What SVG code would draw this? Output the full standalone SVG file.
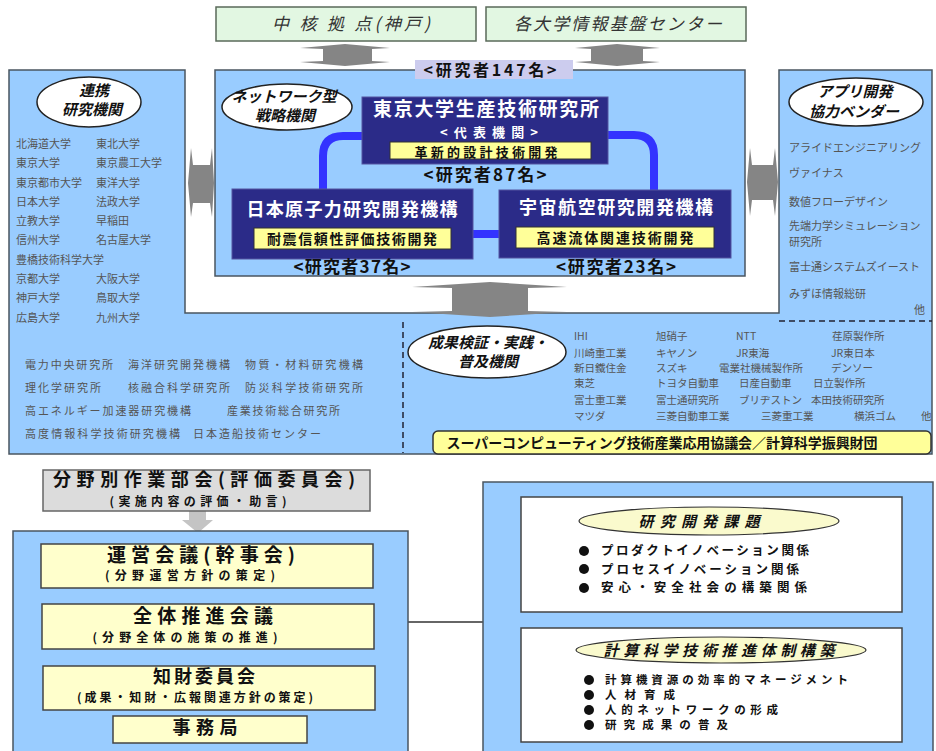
<svg xmlns="http://www.w3.org/2000/svg" width="936" height="751" viewBox="0 0 936 751">
<style>
text{font-family:"Noto Sans CJK JP","Noto Sans",sans-serif}
.panel{fill:#99ccff;stroke:#4a5560;stroke-width:1.5}
.green{fill:#e2f7e2;stroke:#5a6a5a;stroke-width:1.5}
.navy{fill:#2b2b88;stroke:#5555a0;stroke-width:1}
.ybox{fill:#ffff99;stroke:#333;stroke-width:1}
.pale{fill:#ffffcc;stroke:#444;stroke-width:1.5}
.white{fill:#fff;stroke:#444;stroke-width:1.5}
.oval{fill:#fff;stroke:#222;stroke-width:1.5}
.yoval{fill:#fafacd;stroke:#333;stroke-width:1.2}
.ttl{font-weight:bold;font-style:italic;fill:#111;font-size:15px;text-anchor:middle}
.gt{font-style:italic;fill:#333;font-size:17px;text-anchor:middle}
.li{font-size:11px;fill:#555}
.co{font-size:10.5px;fill:#555}
.wt{fill:#fff;font-weight:bold;text-anchor:middle}
.bk{fill:#111;font-weight:bold;text-anchor:middle}
.bl{fill:#111;font-weight:bold}
.arr{fill:#858585}
.dash{stroke:#223;stroke-width:1.5;stroke-dasharray:6 4;fill:none}
.link{stroke:#333;stroke-width:1.5;fill:none}
.blue{stroke:#3333ff;stroke-width:8;fill:none}
</style>

<!-- outer U-shaped panel -->
<g id="outer-panel">
<path class="panel" d="M9,70 H185 V313 H779 V70 H932 V454 H9 Z"/>
<path class="dash" d="M403,322 V453"/>
<path class="dash" d="M779,321 H932"/>
</g>

<!-- top green boxes -->
<g id="kobe">
<rect class="green" x="216" y="7" width="260" height="34"/>
<text class="gt" x="351" y="30" textLength="158">中 核 拠 点(神戸)</text>
</g>
<g id="infocenter">
<rect class="green" x="486" y="7" width="260" height="34"/>
<text class="gt" x="618" y="30" textLength="208">各大学情報基盤センター</text>
</g>

<!-- gray block arrows and connector lines -->
<g id="connectors">
<polygon class="arr" points="345,44 390,48 372,49 372,61 390,62 345,66 300,62 323,61 323,49 300,48"/>
<polygon class="arr" points="617,44 660,48 643,49 643,61 660,62 617,66 575,62 591,61 591,49 575,48"/>
<polygon class="arr" points="188,183 191,148 193,165 210,165 212,148 214,183 212,217 210,203 193,203 191,217"/>
<polygon class="arr" points="747,182 750,148 752,165 773,165 775,148 778,182 775,216 773,200 752,200 750,216"/>
<polygon class="arr" points="490,282 567,287 528,288 528,311 567,312 490,317 412,312 452,311 452,288 412,287"/>
<polygon fill="#c4c4c4" points="189,511 206,511 206,520 213,520 198,533 182,520 189,520"/>
<path class="link" d="M208,588 V604 M208,649 V666 M208,710 V716"/>
<path class="link" d="M408,622 H483"/>
<path class="link" d="M715,612 V628"/>
</g>

<!-- left: collaborating institutes -->
<g id="renkei">
<ellipse class="oval" cx="89" cy="102" rx="52" ry="25"/>
<text class="ttl" x="94" y="96">連携</text>
<text class="ttl" x="92" y="115">研究機関</text>
<text class="li" x="16" y="148">北海道大学</text><text class="li" x="96" y="148">東北大学</text>
<text class="li" x="16" y="167">東京大学</text><text class="li" x="96" y="167">東京農工大学</text>
<text class="li" x="16" y="187">東京都市大学</text><text class="li" x="96" y="187">東洋大学</text>
<text class="li" x="16" y="206">日本大学</text><text class="li" x="96" y="206">法政大学</text>
<text class="li" x="16" y="225">立教大学</text><text class="li" x="96" y="225">早稲田</text>
<text class="li" x="16" y="244">信州大学</text><text class="li" x="96" y="244">名古屋大学</text>
<text class="li" x="16" y="264">豊橋技術科学大学</text>
<text class="li" x="16" y="283">京都大学</text><text class="li" x="96" y="283">大阪大学</text>
<text class="li" x="16" y="302">神戸大学</text><text class="li" x="96" y="302">鳥取大学</text>
<text class="li" x="16" y="322">広島大学</text><text class="li" x="96" y="322">九州大学</text>
<text class="li" x="25" y="369" textLength="88">電力中央研究所</text>
<text class="li" x="128" y="369" textLength="102">海洋研究開発機構</text>
<text class="li" x="245" y="369" textLength="118">物質・材料研究機構</text>
<text class="li" x="25" y="392" textLength="76">理化学研究所</text>
<text class="li" x="128" y="392" textLength="102">核融合科学研究所</text>
<text class="li" x="245" y="392" textLength="118">防災科学技術研究所</text>
<text class="li" x="25" y="415" textLength="166">高エネルギー加速器研究機構</text>
<text class="li" x="227" y="415" textLength="113">産業技術総合研究所</text>
<text class="li" x="25" y="438" textLength="155">高度情報科学技術研究機構</text>
<text class="li" x="193" y="438" textLength="128">日本造船技術センター</text>
</g>

<!-- center: network-type strategic organization -->
<g id="network">
<rect class="panel" x="215" y="70" width="530" height="206"/>
<rect fill="#ccccee" x="415" y="60" width="158" height="19"/>
<text class="bk" x="490" y="76" font-size="16" textLength="133">&lt;研究者147名&gt;</text>
<ellipse class="oval" cx="287" cy="107" rx="65" ry="23"/>
<text class="ttl" x="284" y="102">ネットワーク型</text>
<text class="ttl" x="285" y="121">戦略機関</text>
<path class="blue" d="M362,136 H343 Q323,136 323,156 V190"/>
<path class="blue" d="M608,135 H634 Q654,135 654,155 V191"/>
<path class="blue" d="M472,234 H500"/>
</g>

<g id="iis">
<rect class="navy" x="362" y="97" width="246" height="67"/>
<text class="wt" x="486" y="116" font-size="19" textLength="226">東京大学生産技術研究所</text>
<text class="wt" x="489" y="137" font-size="13" textLength="98">&lt;代表機関&gt;</text>
<rect class="ybox" x="390" y="142" width="201" height="17"/>
<text class="bk" x="486" y="157" font-size="13" textLength="143">革新的設計技術開発</text>
<text class="bk" x="485" y="181" font-size="17" textLength="123">&lt;研究者87名&gt;</text>
</g>

<g id="jaea">
<rect class="navy" x="232" y="189" width="241" height="70"/>
<text class="wt" x="352" y="216" font-size="18" textLength="211">日本原子力研究開発機構</text>
<rect class="ybox" x="254" y="228" width="197" height="21"/>
<text class="bk" x="352" y="244" font-size="14" textLength="170">耐震信頼性評価技術開発</text>
<text class="bk" x="352" y="273" font-size="17" textLength="117">&lt;研究者37名&gt;</text>
</g>

<g id="jaxa">
<rect class="navy" x="499" y="190" width="232" height="68"/>
<text class="wt" x="616" y="214" font-size="18" textLength="194">宇宙航空研究開発機構</text>
<rect class="ybox" x="516" y="227" width="198" height="21"/>
<text class="bk" x="615" y="243" font-size="14" textLength="157">高速流体関連技術開発</text>
<text class="bk" x="616" y="273" font-size="17" textLength="120">&lt;研究者23名&gt;</text>
</g>

<!-- right: app vendors -->
<g id="vendors">
<ellipse class="oval" cx="856" cy="102" rx="67" ry="24"/>
<text class="ttl" x="855" y="97">アプリ開発</text>
<text class="ttl" x="854" y="117">協力ベンダー</text>
<text class="li" x="789" y="152">アライドエンジニアリング</text>
<text class="li" x="789" y="177">ヴァイナス</text>
<text class="li" x="789" y="206">数値フローデザイン</text>
<text class="li" x="789" y="230">先端力学シミュレーション</text>
<text class="li" x="789" y="246">研究所</text>
<text class="li" x="789" y="271">富士通システムズイースト</text>
<text class="li" x="789" y="298">みずほ情報総研</text>
<text class="li" x="914" y="314">他</text>
</g>

<!-- result verification / industry -->
<g id="industry">
<ellipse class="oval" cx="487" cy="352" rx="79" ry="26"/>
<text class="ttl" x="488" y="348">成果検証・実践・</text>
<text class="ttl" x="488" y="367">普及機関</text>
<text class="co" x="574" y="340">IHI</text><text class="co" x="656" y="340">旭硝子</text><text class="co" x="736" y="340">NTT</text><text class="co" x="832" y="340">荏原製作所</text>
<text class="co" x="574" y="357">川崎重工業</text><text class="co" x="656" y="357">キヤノン</text><text class="co" x="736" y="357">JR東海</text><text class="co" x="831" y="357">JR東日本</text>
<text class="co" x="574" y="372">新日鐵住金</text><text class="co" x="656" y="372">スズキ</text><text class="co" x="719" y="372">電業社機械製作所</text><text class="co" x="831" y="372">デンソー</text>
<text class="co" x="574" y="387">東芝</text><text class="co" x="656" y="387">トヨタ自動車</text><text class="co" x="739" y="387">日産自動車</text><text class="co" x="813" y="387">日立製作所</text>
<text class="co" x="574" y="404">富士重工業</text><text class="co" x="656" y="404">富士通研究所</text><text class="co" x="739" y="404">ブリヂストン</text><text class="co" x="811" y="404">本田技術研究所</text>
<text class="co" x="574" y="420">マツダ</text><text class="co" x="656" y="420">三菱自動車工業</text><text class="co" x="761" y="420">三菱重工業</text><text class="co" x="854" y="420">横浜ゴム</text><text class="co" x="921" y="420">他</text>
</g>

<g id="council">
<rect x="433" y="431" width="498" height="23" rx="5" fill="#ffff99" stroke="#333" stroke-width="1.5"/>
<text class="bk" x="662" y="448" font-size="14" textLength="431">スーパーコンピューティング技術産業応用協議会／計算科学振興財団</text>
</g>

<!-- bottom left: organization -->
<g id="eval">
<rect x="43" y="470" width="327" height="41" fill="#dcdcdc" stroke="#666" stroke-width="1.5"/>
<text class="bk" x="204" y="486" font-size="18" textLength="302">分野別作業部会(評価委員会)</text>
<text class="bk" x="198" y="506" font-size="12" textLength="177">(実施内容の評価・助言)</text>
</g>

<g id="org-panel">
<rect class="panel" x="13" y="531" width="395" height="230"/>
</g>

<g id="unei">
<rect class="pale" x="41" y="544" width="332" height="44"/>
<text class="bk" x="201" y="562" font-size="19" textLength="188">運営会議(幹事会)</text>
<text class="bk" x="190" y="580" font-size="12" textLength="170">(分野運営方針の策定)</text>
</g>
<g id="zentai">
<rect class="pale" x="42" y="604" width="332" height="45"/>
<text class="bk" x="203" y="623" font-size="19" textLength="140">全体推進会議</text>
<text class="bk" x="185" y="642" font-size="12" textLength="185">(分野全体の施策の推進)</text>
</g>
<g id="chizai">
<rect class="pale" x="43" y="666" width="332" height="44"/>
<text class="bk" x="204" y="683" font-size="18" textLength="102">知財委員会</text>
<text class="bk" x="195" y="702" font-size="12" textLength="236">(成果・知財・広報関連方針の策定)</text>
</g>
<g id="jimukyoku">
<rect class="pale" x="113" y="716" width="194" height="27"/>
<text class="bk" x="205" y="734" font-size="18" textLength="65">事務局</text>
</g>

<!-- bottom right: themes -->
<g id="themes-panel">
<rect class="panel" x="483" y="482" width="450" height="280"/>
</g>

<g id="kadai">
<rect class="white" x="521" y="497" width="381" height="115"/>
<ellipse class="yoval" cx="709" cy="521" rx="130" ry="14"/>
<text class="ttl" x="699" y="527" font-size="16" textLength="121">研究開発課題</text>
<circle cx="584" cy="551" r="5" fill="#111"/>
<text class="bl" x="601" y="555" font-size="12.5" textLength="208">プロダクトイノベーション関係</text>
<circle cx="584" cy="569" r="5" fill="#111"/>
<text class="bl" x="601" y="573.5" font-size="12.5" textLength="198">プロセスイノベーション関係</text>
<circle cx="584" cy="588" r="5" fill="#111"/>
<text class="bl" x="601" y="592" font-size="12.5" textLength="206">安心・安全社会の構築関係</text>
</g>

<g id="taisei">
<rect class="white" x="521" y="628" width="381" height="114"/>
<ellipse class="yoval" cx="721" cy="650" rx="145" ry="13"/>
<text class="ttl" x="719" y="656" font-size="16" textLength="231">計算科学技術推進体制構築</text>
<circle cx="589" cy="680" r="5" fill="#111"/>
<text class="bl" x="605" y="684" font-size="11.5" textLength="243">計算機資源の効率的マネージメント</text>
<circle cx="589" cy="695" r="5" fill="#111"/>
<text class="bl" x="605" y="699" font-size="11.5" textLength="70">人材育成</text>
<circle cx="589" cy="710" r="5" fill="#111"/>
<text class="bl" x="605" y="714" font-size="11.5" textLength="173">人的ネットワークの形成</text>
<circle cx="589" cy="725" r="5" fill="#111"/>
<text class="bl" x="605" y="729" font-size="11.5" textLength="123">研究成果の普及</text>
</g>
</svg>
